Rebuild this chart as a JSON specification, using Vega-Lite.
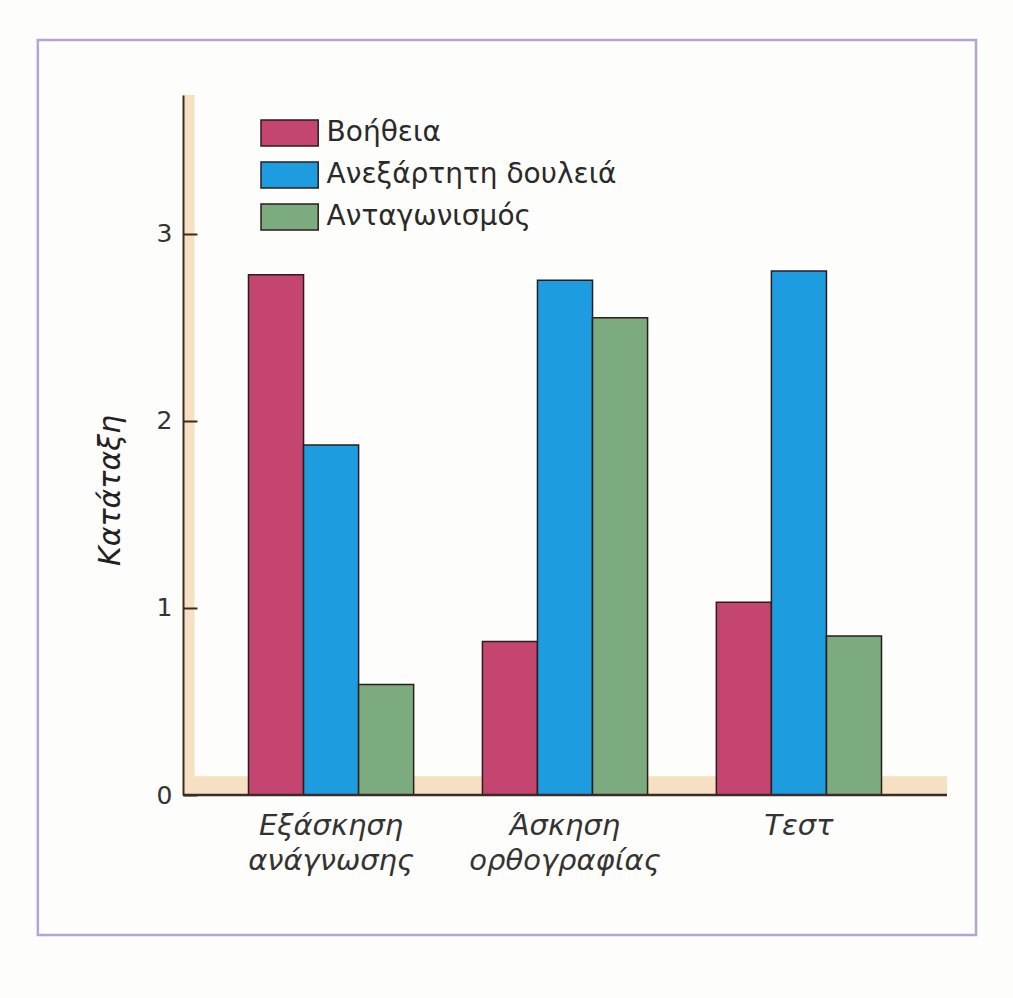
{
  "$schema": "https://vega.github.io/schema/vega-lite/v6.json",
  "width": 764,
  "height": 700,
  "autosize": {"type": "none"},
  "padding": {"left": 183, "top": 95, "right": 66, "bottom": 203},
  "background": "#fdfdfb",
  "config": {"view": {"stroke": null}, "font": "DejaVu Sans"},
  "resolve": {"scale": {"x": "independent", "y": "independent"}},
  "layer": [
    {
      "data": {"values": [{}]},
      "mark": {"type": "rect", "fill": null, "stroke": "#b7a3d3", "strokeWidth": 2.5},
      "encoding": {
        "x": {"datum": -19, "type": "quantitative", "scale": {"domain": [0, 100]}, "axis": null},
        "x2": {"datum": 103.8},
        "y": {"datum": -0.748, "type": "quantitative", "scale": {"domain": [0, 3.74], "nice": false}, "axis": null},
        "y2": {"datum": 4.034}
      }
    },
    {
      "data": {"values": [{}]},
      "mark": {"type": "rect", "fill": "#f6e0c2"},
      "encoding": {
        "x": {"datum": 0, "type": "quantitative", "scale": {"domain": [0, 100]}, "axis": null},
        "x2": {"datum": 1.5},
        "y": {"datum": 0, "type": "quantitative", "scale": {"domain": [0, 3.74], "nice": false}, "axis": null},
        "y2": {"datum": 3.74}
      }
    },
    {
      "data": {"values": [{}]},
      "mark": {"type": "rect", "fill": "#f6e0c2"},
      "encoding": {
        "x": {"datum": 0, "type": "quantitative", "scale": {"domain": [0, 100]}, "axis": null},
        "x2": {"datum": 100},
        "y": {"datum": 0, "type": "quantitative", "scale": {"domain": [0, 3.74], "nice": false}, "axis": null},
        "y2": {"datum": 0.1}
      }
    },
    {
      "data": {
        "values": [
          {"activity": "Εξάσκηση ανάγνωσης", "condition": "Βοήθεια", "value": 2.78},
          {"activity": "Εξάσκηση ανάγνωσης", "condition": "Ανεξάρτητη δουλειά", "value": 1.87},
          {"activity": "Εξάσκηση ανάγνωσης", "condition": "Ανταγωνισμός", "value": 0.59},
          {"activity": "Άσκηση ορθογραφίας", "condition": "Βοήθεια", "value": 0.82},
          {"activity": "Άσκηση ορθογραφίας", "condition": "Ανεξάρτητη δουλειά", "value": 2.75},
          {"activity": "Άσκηση ορθογραφίας", "condition": "Ανταγωνισμός", "value": 2.55},
          {"activity": "Τεστ", "condition": "Βοήθεια", "value": 1.03},
          {"activity": "Τεστ", "condition": "Ανεξάρτητη δουλειά", "value": 2.8},
          {"activity": "Τεστ", "condition": "Ανταγωνισμός", "value": 0.85}
        ]
      },
      "mark": {"type": "bar", "stroke": "#2b1d1d", "strokeWidth": 1.5},
      "encoding": {
        "x": {
          "field": "activity",
          "type": "nominal",
          "sort": ["Εξάσκηση ανάγνωσης", "Άσκηση ορθογραφίας", "Τεστ"],
          "scale": {"paddingInner": 0.294, "paddingOuter": 0.28},
          "axis": {
            "title": null,
            "domain": false,
            "ticks": false,
            "labelAngle": 0,
            "labelFontSize": 29,
            "labelFontStyle": "italic",
            "labelColor": "#333333",
            "labelPadding": 16,
            "labelLineHeight": 35,
            "labelLimit": 400,
            "labelExpr": "split(datum.label, ' ')"
          }
        },
        "xOffset": {
          "field": "condition",
          "type": "nominal",
          "sort": ["Βοήθεια", "Ανεξάρτητη δουλειά", "Ανταγωνισμός"],
          "scale": {"paddingInner": 0, "paddingOuter": 0}
        },
        "y": {
          "field": "value",
          "type": "quantitative",
          "scale": {"domain": [0, 3.74], "nice": false},
          "axis": {
            "values": [0, 1, 2, 3],
            "grid": false,
            "zindex": 1,
            "domainColor": "#3b2b24",
            "domainWidth": 2,
            "tickColor": "#3b2b24",
            "tickWidth": 2,
            "tickSize": -14,
            "labelFontSize": 25,
            "labelColor": "#333333",
            "labelPadding": 25,
            "title": "Κατάταξη",
            "titleFontSize": 30,
            "titleFontStyle": "italic",
            "titleFontWeight": "normal",
            "titleColor": "#222222",
            "titleX": -58,
            "titleY": 395,
            "titleAngle": 270
          }
        },
        "color": {
          "field": "condition",
          "type": "nominal",
          "sort": ["Βοήθεια", "Ανεξάρτητη δουλειά", "Ανταγωνισμός"],
          "scale": {
            "domain": ["Βοήθεια", "Ανεξάρτητη δουλειά", "Ανταγωνισμός"],
            "range": ["#c4456f", "#1d9de0", "#7dab80"]
          },
          "legend": {
            "title": null,
            "orient": "none",
            "legendX": 92.6,
            "legendY": 24,
            "padding": 0,
            "symbolType": "M-2.2,-1H2.2V1H-2.2Z",
            "symbolSize": 676,
            "symbolStrokeColor": "#2b1d1d",
            "symbolStrokeWidth": 1.5,
            "symbolOpacity": 1,
            "labelFontSize": 28,
            "labelColor": "#2a2a2a",
            "labelOffset": 23,
            "rowPadding": 10,
            "labelLimit": 400
          }
        }
      }
    },
    {
      "data": {"values": [{}]},
      "mark": {"type": "rule", "color": "#3b2b24", "strokeWidth": 2.5},
      "encoding": {"y": {"datum": 0, "type": "quantitative", "scale": {"domain": [0, 3.74], "nice": false}, "axis": null}}
    }
  ]
}
